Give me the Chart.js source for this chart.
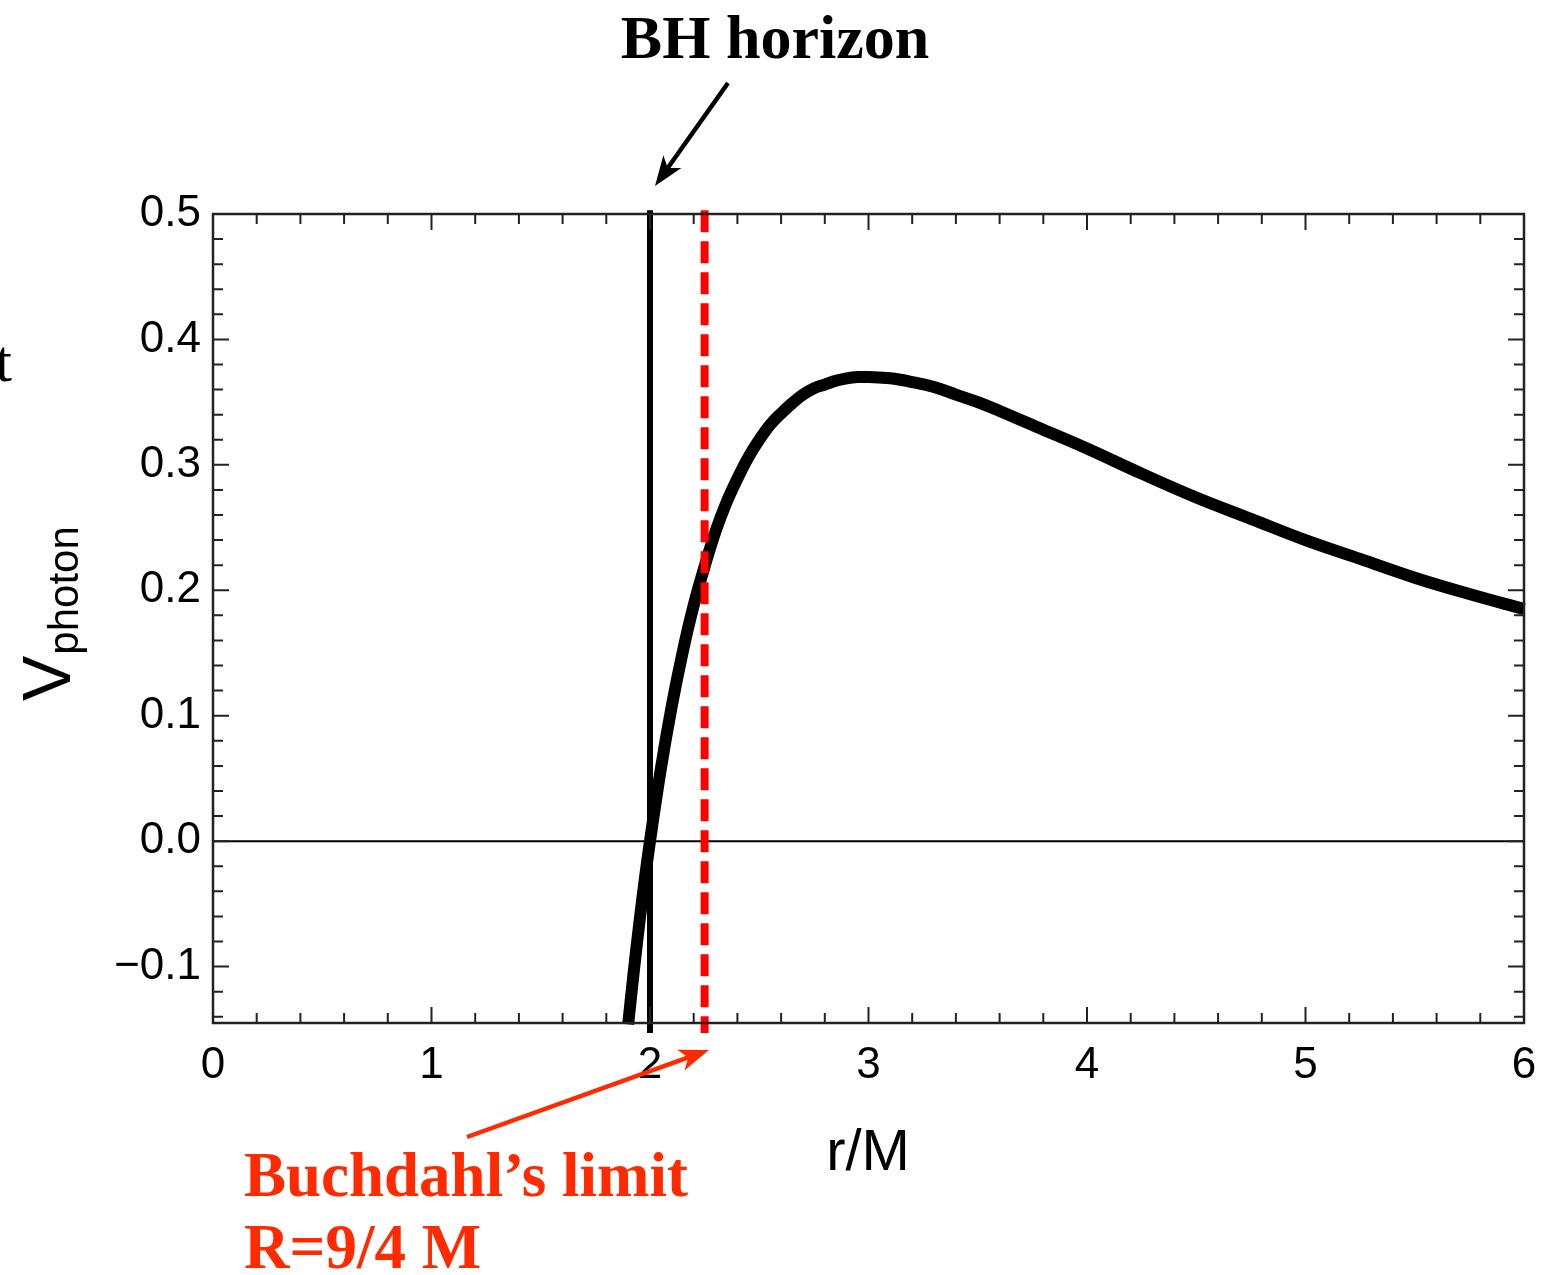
<!DOCTYPE html>
<html>
<head>
<meta charset="utf-8">
<script src="https://cdn.jsdelivr.net/npm/chart.js@4.4.1/dist/chart.umd.min.js"></script>
<style>
    body { margin: 0; background: #fff; }
    #wrap { width: 1558px; height: 1275px; }
</style>
</head>
<body>
<div id="wrap"><canvas id="potential-chart" width="1558" height="1275"></canvas></div>
<script>
// Effective photon potential vs r/M
const rValues = [1.9, 1.925, 1.95, 1.975, 2.0, 2.05, 2.1, 2.15, 2.2, 2.25, 2.3, 2.35, 2.4, 2.45, 2.5, 2.55, 2.6, 2.65, 2.7,
    2.75, 2.8, 2.85, 2.9, 2.95, 3.0, 3.1, 3.2, 3.3, 3.4, 3.5, 3.6, 3.8, 4.0, 4.25, 4.5, 4.75, 5.0, 5.25, 5.5, 5.75, 6.0];
const vPhoton = [-0.146, -0.105, -0.067, -0.032, 0.0, 0.058, 0.108, 0.151, 0.188, 0.219, 0.247, 0.270, 0.289, 0.306, 0.320, 0.332, 0.341, 0.349, 0.356,
    0.361, 0.364, 0.367, 0.369, 0.370, 0.370, 0.369, 0.366, 0.362, 0.356, 0.350, 0.343, 0.328, 0.313, 0.293, 0.274, 0.257, 0.240, 0.225, 0.210, 0.197, 0.185];

// Marker lines
const horizonR = 2.0;
const buchdahlR = 2.25;
const markerSpan = [0.503, -0.153];

const xTicks = [0, 1, 2, 3, 4, 5, 6];
const yTicks = [-0.1, 0.0, 0.1, 0.2, 0.3, 0.4, 0.5];
const xRange = [0, 6];
const yRange = [-0.145, 0.5];

const RED_TEXT = '#ff2a00';

function arrow(ctx, x1, y1, x2, y2, color) {
    const ang = Math.atan2(y2 - y1, x2 - x1);
    const headLen = 30, headW = 11, notch = 8;
    ctx.save();
    ctx.strokeStyle = color;
    ctx.fillStyle = color;
    ctx.lineWidth = 4.5;
    ctx.beginPath();
    ctx.moveTo(x1, y1);
    ctx.lineTo(x2 - Math.cos(ang) * (headLen - notch), y2 - Math.sin(ang) * (headLen - notch));
    ctx.stroke();
    ctx.translate(x2, y2);
    ctx.rotate(ang);
    ctx.beginPath();
    ctx.moveTo(0, 0);
    ctx.lineTo(-headLen, -headW);
    ctx.lineTo(-headLen + notch, 0);
    ctx.lineTo(-headLen, headW);
    ctx.closePath();
    ctx.fill();
    ctx.restore();
}

const framePlugin = {
    id: 'frame',
    afterDraw(chart) {
        const ctx = chart.ctx;
        const a = chart.chartArea;
        const xs = chart.scales.x, ys = chart.scales.y;

        ctx.save();
        ctx.strokeStyle = '#222';
        ctx.lineWidth = 2.5;
        ctx.strokeRect(a.left, a.top, a.right - a.left, a.bottom - a.top);

        // inward ticks on all four sides
        ctx.lineWidth = 2;
        ctx.beginPath();
        for (let i = 0; i <= 30; i++) {
            const v = i * 0.2;
            const px = xs.getPixelForValue(v);
            const len = (i % 5 === 0) ? 16 : 10;
            ctx.moveTo(px, a.bottom); ctx.lineTo(px, a.bottom - len);
            ctx.moveTo(px, a.top); ctx.lineTo(px, a.top + len);
        }
        for (let i = -7; i <= 25; i++) {
            const v = i * 0.02;
            if (v < yRange[0] - 1e-9) continue;
            const py = ys.getPixelForValue(v);
            const len = (i % 5 === 0) ? 16 : 10;
            ctx.moveTo(a.left, py); ctx.lineTo(a.left + len, py);
            ctx.moveTo(a.right, py); ctx.lineTo(a.right - len, py);
        }
        ctx.stroke();

        // axis titles
        ctx.fillStyle = '#000';
        ctx.font = '58px "Liberation Sans", Arial, sans-serif';
        ctx.textAlign = 'center';
        ctx.textBaseline = 'alphabetic';
        ctx.fillText('r/M', 868, 1170);

        ctx.save();
        ctx.translate(70, 701);
        ctx.rotate(-Math.PI / 2);
        ctx.textAlign = 'left';
        ctx.font = '68px "Liberation Sans", Arial, sans-serif';
        ctx.fillText('V', 0, 0);
        const vw = ctx.measureText('V').width;
        ctx.font = '42px "Liberation Sans", Arial, sans-serif';
        ctx.fillText('photon', vw + 1, 8);
        ctx.restore();

        // annotations
        ctx.font = 'bold 62px "Liberation Serif", "DejaVu Serif", serif';
        ctx.textAlign = 'center';
        ctx.fillText('BH horizon', 775, 58);
        arrow(ctx, 728, 83, 655, 186, '#000');

        ctx.textAlign = 'right';
        ctx.font = '60px "Liberation Serif", serif';
        ctx.fillText('t', 12, 381);

        ctx.fillStyle = RED_TEXT;
        ctx.textAlign = 'left';
        ctx.font = 'bold 63px "Liberation Serif", "DejaVu Serif", serif';
        ctx.fillText('Buchdahl\u2019s limit', 244, 1196);
        ctx.fillText('R=9/4 M', 244, 1268);
        arrow(ctx, 467, 1137, 709, 1050, RED_TEXT);
        ctx.restore();
    }
};

const curvePoints = rValues.map((r, i) => ({ x: r, y: vPhoton[i] }));

new Chart(document.getElementById('potential-chart'), {
    type: 'scatter',
    data: {
        datasets: [
            {
                // Buchdahl limit
                data: markerSpan.map(v => ({ x: buchdahlR, y: v })),
                showLine: true,
                borderColor: '#ff0000',
                borderWidth: 8,
                borderDash: [22, 9],
                pointRadius: 0,
                clip: false,
                order: 0
            },
            {
                data: curvePoints,
                showLine: true,
                borderColor: '#000',
                borderWidth: 12,
                tension: 0.4,
                borderJoinStyle: 'round',
                pointRadius: 0,
                clip: false,
                order: 1
            },
            {
                // horizon
                data: markerSpan.map(v => ({ x: horizonR, y: v })),
                showLine: true,
                borderColor: '#000',
                borderWidth: 6,
                pointRadius: 0,
                clip: false,
                order: 2
            },
            {
                data: [{ x: xRange[0], y: 0 }, { x: xRange[1], y: 0 }],
                showLine: true,
                borderColor: '#000',
                borderWidth: 2,
                pointRadius: 0,
                order: 3
            }
        ]
    },
    options: {
        responsive: false,
        devicePixelRatio: 1,
        animation: false,
        layout: { padding: { left: 0, top: 214, right: 34, bottom: 0 } },
        plugins: {
            legend: { display: false },
            tooltip: { enabled: false }
        },
        scales: {
            x: {
                type: 'linear',
                min: xRange[0],
                max: xRange[1],
                afterFit: s => { s.height = 252; },
                afterBuildTicks: s => { s.ticks = xTicks.map(v => ({ value: v })); },
                grid: { display: false, drawTicks: false },
                border: { display: false },
                ticks: {
                    color: '#000',
                    padding: 16,
                    maxRotation: 0,
                    font: { family: '"Liberation Sans", Arial, sans-serif', size: 44 },
                    callback: v => String(v)
                }
            },
            y: {
                type: 'linear',
                min: yRange[0],
                max: yRange[1],
                afterFit: s => { s.width = 213; },
                afterBuildTicks: s => { s.ticks = yTicks.map(v => ({ value: v })); },
                grid: { display: false, drawTicks: false },
                border: { display: false },
                ticks: {
                    color: '#000',
                    padding: 12,
                    font: { family: '"Liberation Sans", Arial, sans-serif', size: 44 },
                    callback: v => (v < 0 ? '\u2212' : '') + Math.abs(v).toFixed(1)
                }
            }
        }
    },
    plugins: [framePlugin]
});
</script>
</body>
</html>
